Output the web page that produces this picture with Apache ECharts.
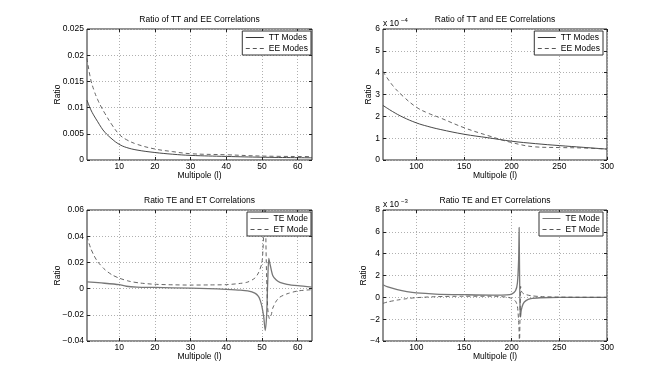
<!DOCTYPE html>
<html>
<head>
<meta charset="utf-8">
<script src="https://cdn.jsdelivr.net/npm/echarts@6/dist/echarts.min.js"></script>
<style>
  html, body { margin: 0; background: #fff; }
  #chart { width: 670px; height: 383px; }
</style>
</head>
<body>
<div id="chart"></div>
<script>
// ---- values ----
// top left: low multipoles
const lowL = [1, 2, 3, 4, 5, 6, 8, 10, 12, 15, 20, 25, 30, 40, 50, 64]
const lowTT = [0.0114, 0.0097, 0.0084, 0.0073, 0.0062, 0.0053, 0.0040, 0.0030, 0.0024, 0.0019, 0.00143, 0.0011, 0.00088, 0.00068, 0.00053, 0.00042]
const lowEE = [0.0194, 0.0155, 0.0132, 0.0115, 0.0101, 0.0089, 0.0067, 0.0049, 0.0039, 0.0030, 0.0021, 0.0016, 0.0012, 0.00100, 0.00075, 0.00065]

// top right: high multipoles
const highL = [65, 75, 86, 100, 112, 125, 150, 175, 200, 225, 250, 275, 300]
const highTT = [2.5e-4, 2.22e-4, 1.96e-4, 1.70e-4, 1.54e-4, 1.40e-4, 1.18e-4, 1.02e-4, 0.86e-4, 0.75e-4, 0.66e-4, 0.58e-4, 0.50e-4]
const highEE = [4.05e-4, 3.42e-4, 2.92e-4, 2.42e-4, 2.15e-4, 1.93e-4, 1.48e-4, 1.12e-4, 0.80e-4, 0.60e-4, 0.57e-4, 0.55e-4, 0.50e-4]

// bottom left: cross correlations, low multipoles
const lowTeL = [1, 5, 10, 12, 15, 20, 30, 35, 40, 44, 46, 48, 49, 49.5, 50, 50.5, 50.9, 51.3, 51.6, 51.9, 52.3, 53, 54, 55, 57, 60, 64]
const lowTE = [0.0052, 0.0043, 0.003, 0.0018, 0.0012, 0.0009, 0.0003, 0.0, -0.0006, -0.0012, -0.0018, -0.0035, -0.006, -0.009, -0.014, -0.022, -0.032, -0.02, 0.005, 0.023, 0.018, 0.010, 0.0065, 0.0048, 0.0033, 0.0022, 0.0012]
const lowEtL = [1, 2, 3, 4, 6, 8, 10, 13, 16, 20, 25, 30, 35, 40, 44, 46, 48, 49, 50, 50.5, 50.8, 51.2, 51.6, 52.1, 52.6, 53, 54, 55, 57, 60, 64]
const lowET = [0.0397, 0.031, 0.025, 0.0205, 0.0145, 0.0105, 0.008, 0.0055, 0.0042, 0.0033, 0.0029, 0.0027, 0.0028, 0.003, 0.004, 0.005, 0.008, 0.012, 0.02, 0.045, 0.08, 0.02, -0.015, -0.023, -0.02, -0.015, -0.0095, -0.0065, -0.004, -0.0018, -0.0008]

// bottom right: cross correlations, high multipoles
const highTeL = [65, 70, 80, 90, 100, 120, 150, 180, 195, 200, 204, 206, 207.3, 207.8, 208.3, 208.8, 209.3, 210, 212, 215, 220, 230, 250, 300]
const highTE = [1.15e-3, 0.95e-3, 0.7e-3, 0.52e-3, 0.4e-3, 0.3e-3, 0.24e-3, 0.2e-3, 0.22e-3, 0.3e-3, 0.6e-3, 1.3e-3, 3.5e-3, 6.4e-3, 2e-3, -1.0e-3, -1.8e-3, -1.2e-3, -0.6e-3, -0.3e-3, -0.12e-3, -0.04e-3, 0, 0]
const highEtL = [65, 70, 80, 90, 100, 120, 150, 180, 195, 200, 204, 206, 207.5, 208.2, 208.8, 209.4, 210, 212, 215, 220, 230, 250, 300]
const highET = [-0.55e-3, -0.42e-3, -0.25e-3, -0.12e-3, -0.03e-3, 0.06e-3, 0.1e-3, 0.1e-3, 0.02e-3, -0.1e-3, -0.35e-3, -0.8e-3, -2.5e-3, -4.2e-3, -1.5e-3, 1.0e-3, 0.6e-3, 0.35e-3, 0.25e-3, 0.15e-3, 0.07e-3, 0.02e-3, 0]

// tick labels
const lowTicks = [10, 20, 30, 40, 50, 60]
const highTicks = [100, 150, 200, 250, 300]

const FONT = '"Liberation Sans", Arial, Helvetica, sans-serif'
const minus = s => String(s).replace('-', '\u2212')
const zip = (xs, ys) => xs.map((x, i) => [x, ys[i]])

const panels = [
  {
    title: 'Ratio of TT and EE Correlations',
    box: { left: 87, top: 29, width: 225, height: 131 },
    x: [1, 64], ticks: lowTicks,
    y: [0, 0.025, 0.005], fmt: v => minus(+v.toFixed(3)),
    nameGap: 25, smooth: 0.4,
    legendRight: 359, legendTop: 31,
    series: [
      { name: 'TT Modes', data: zip(lowL, lowTT), solid: true },
      { name: 'EE Modes', data: zip(lowL, lowEE) }
    ]
  },
  {
    title: 'Ratio of TT and EE Correlations',
    box: { left: 383, top: 29, width: 224, height: 131 },
    x: [65, 300], ticks: highTicks,
    y: [0, 6e-4, 1e-4], fmt: v => minus(Math.round(v * 1e4)),
    exp: '\u22124',
    nameGap: 10, smooth: 0.4,
    legendRight: 67, legendTop: 31,
    series: [
      { name: 'TT Modes', data: zip(highL, highTT), solid: true },
      { name: 'EE Modes', data: zip(highL, highEE) }
    ]
  },
  {
    title: 'Ratio TE and ET Correlations',
    box: { left: 87, top: 210, width: 225, height: 131 },
    x: [1, 64], ticks: lowTicks,
    y: [-0.04, 0.06, 0.02], fmt: v => minus(+v.toFixed(2)),
    nameGap: 25, smooth: 0.25,
    legendRight: 359, legendTop: 212,
    series: [
      { name: 'TE Mode', data: zip(lowTeL, lowTE), solid: true, light: true },
      { name: 'ET Mode', data: zip(lowEtL, lowET) }
    ]
  },
  {
    title: 'Ratio TE and ET Correlations',
    box: { left: 383, top: 210, width: 224, height: 131 },
    x: [65, 300], ticks: highTicks,
    y: [-4e-3, 8e-3, 2e-3], fmt: v => minus(Math.round(v * 1e3)),
    exp: '\u22123',
    nameGap: 15, smooth: 0.25,
    legendRight: 67, legendTop: 212,
    series: [
      { name: 'TE Mode', data: zip(highTeL, highTE), solid: true, light: true },
      { name: 'ET Mode', data: zip(highEtL, highET) }
    ]
  }
]

const txt = { fontFamily: FONT, fontSize: 8.5, color: '#000' }
const grid = [], xAxis = [], yAxis = [], series = [], legend = [], graphic = []

panels.forEach((p, i) => {
  grid.push(Object.assign({ show: true, borderColor: '#222', borderWidth: 1, backgroundColor: '#fff', containLabel: false }, p.box))

  const tick = { inside: true, length: 3, lineStyle: { color: '#222' } }
  const dots = { show: true, lineStyle: { color: '#b0b0b0', type: [1, 2], width: 1 } }
  // bottom + top x axes
  xAxis.push({
    type: 'value', gridIndex: i, min: p.x[0], max: p.x[1],
    axisLine: { show: false, onZero: false },
    axisTick: Object.assign({ customValues: p.ticks }, tick),
    axisLabel: Object.assign({ customValues: p.ticks, margin: 2, showMaxLabel: true }, txt),
    splitLine: dots,
    name: 'Multipole (l)', nameLocation: 'middle', nameGap: 11, nameMoveOverlap: false, nameTextStyle: txt
  })
  xAxis.push({
    type: 'value', gridIndex: i, min: p.x[0], max: p.x[1], position: 'top',
    axisLine: { show: false, onZero: false }, axisLabel: { show: false }, splitLine: { show: false },
    axisTick: Object.assign({ customValues: p.ticks }, tick)
  })
  // left + right y axes
  yAxis.push({
    type: 'value', gridIndex: i, min: p.y[0], max: p.y[1], interval: p.y[2],
    axisLine: { show: false, onZero: false }, axisTick: tick,
    axisLabel: Object.assign({ formatter: p.fmt, margin: 3 }, txt),
    splitLine: dots,
    name: 'Ratio', nameLocation: 'middle', nameRotate: 90, nameGap: p.nameGap, nameMoveOverlap: false, nameTextStyle: txt
  })
  yAxis.push({
    type: 'value', gridIndex: i, min: p.y[0], max: p.y[1], interval: p.y[2], position: 'right',
    axisLine: { show: false, onZero: false }, axisLabel: { show: false }, splitLine: { show: false }, axisTick: tick
  })

  p.series.forEach(s => {
    const color = s.solid ? (s.light ? '#777' : '#333') : '#555'
    series.push({
      type: 'line', name: s.name, xAxisIndex: 2 * i, yAxisIndex: 2 * i,
      data: s.data, symbol: 'none', smooth: p.smooth, clip: true,
      animation: false, silent: true,
      itemStyle: { color },
      lineStyle: s.solid
        ? { color, width: s.light ? 1.3 : 0.9, type: 'solid' }
        : { color, width: 0.9, type: [4, 3] }
    })
  })

  legend.push({
    orient: 'vertical', right: p.legendRight, top: p.legendTop,
    data: p.series.map(s => s.name), selectedMode: false,
    itemWidth: 18, itemHeight: 8, itemGap: 2, padding: [2, 3, 2, 3],
    borderColor: '#333', borderWidth: 1, backgroundColor: '#fff',
    itemStyle: { opacity: 0 },
    lineStyle: { width: 1 },
    textStyle: txt
  })

  graphic.push({
    type: 'text', x: p.box.left + p.box.width / 2, y: p.box.top - 9,
    style: { text: p.title, textAlign: 'center', textVerticalAlign: 'middle', font: '8.5px ' + FONT, fill: '#000' }
  })
  if (p.exp) {
    graphic.push({
      type: 'text', x: p.box.left, y: p.box.top - 5,
      style: { text: 'x 10', textAlign: 'left', textVerticalAlign: 'middle', font: '8.5px ' + FONT, fill: '#000' }
    })
    graphic.push({
      type: 'text', x: p.box.left + 18, y: p.box.top - 9,
      style: { text: p.exp, textAlign: 'left', textVerticalAlign: 'middle', font: '6px ' + FONT, fill: '#000' }
    })
  }
})

const chart = echarts.init(document.getElementById('chart'), null, { renderer: 'canvas' })
chart.setOption({
  backgroundColor: '#fff',
  animation: false,
  grid, xAxis, yAxis, series, legend, graphic
})
</script>
</body>
</html>
